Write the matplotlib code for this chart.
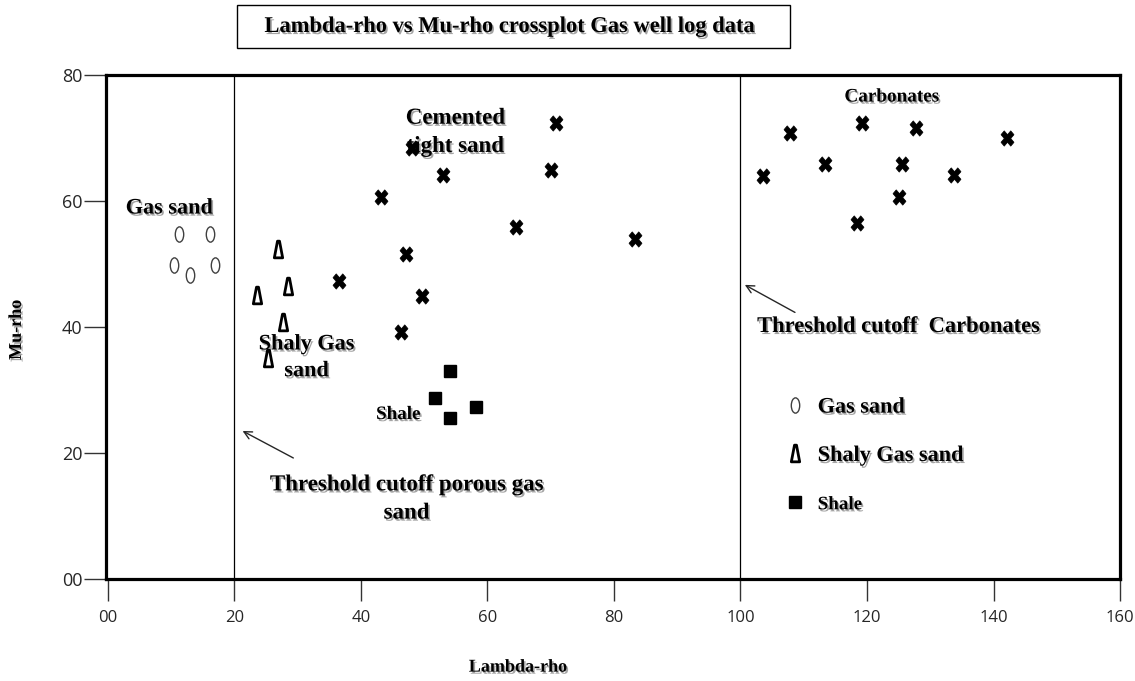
import matplotlib
matplotlib.use("Agg")
import matplotlib.pyplot as plt
import matplotlib.patheffects as pe
from matplotlib.markers import MarkerStyle
from matplotlib.path import Path
from matplotlib.patches import Rectangle
from matplotlib.lines import Line2D
from matplotlib.transforms import Affine2D

# Lambda-rho / Mu-rho pairs for each lithology
gas_sand_lr = [11.3, 16.2, 10.5, 12.9, 17.0]
gas_sand_mr = [54.8, 54.8, 49.9, 48.3, 49.9]

shaly_sand_lr = [26.9, 28.5, 23.6, 27.7, 25.3]
shaly_sand_mr = [52.4, 46.5, 45.0, 40.8, 35.1]

shale_lr = [54.1, 51.7, 58.2, 54.1]
shale_mr = [33.0, 28.8, 27.3, 25.5]

tight_sand_lr = [70.9, 48.1, 70.1, 53.0, 43.1, 64.5, 83.3, 47.2, 36.6, 49.7, 46.4]
tight_sand_mr = [72.4, 68.4, 64.9, 64.1, 60.7, 55.8, 54.0, 51.6, 47.3, 44.9, 39.2]

carbonate_lr = [103.6, 107.9, 113.4, 119.2, 127.7, 125.6, 125.0, 118.4, 133.8, 142.1]
carbonate_mr = [63.9, 70.8, 65.8, 72.4, 71.6, 65.8, 60.7, 56.5, 64.1, 70.0]

# porosity / carbonate cutoffs on the lambda-rho axis
cutoffs = [20, 100]

xticks = [0, 20, 40, 60, 80, 100, 120, 140, 160]
xtick_labels = ["00", "20", "40", "60", "80", "100", "120", "140", "160"]
yticks = [0, 20, 40, 60, 80]
ytick_labels = ["00", "20", "40", "60", "80"]

SERIF = "Liberation Serif"
SHADOW = [pe.withSimplePatchShadow(offset=(1.2, -1.5), shadow_rgbFace="0.35", alpha=0.55)]


def ellipse_marker():
    return Path.unit_circle().transformed(Affine2D().scale(0.55, 1.0))


def narrow_triangle():
    verts = [(-0.5, -1.0), (0.5, -1.0), (0.12, 1.0), (-0.12, 1.0), (-0.5, -1.0)]
    codes = [Path.MOVETO, Path.LINETO, Path.LINETO, Path.LINETO, Path.CLOSEPOLY]
    return Path(verts, codes)


def bold_x():
    ms = MarkerStyle("X")
    p = ms.get_path().transformed(ms.get_transform())
    return p.transformed(Affine2D().scale(0.85, 1.0))


def label(ax, x, y, s, size=16.5, **kw):
    ax.text(x, y, s, fontsize=size, family=SERIF, fontweight="bold",
            ha="center", va="center", linespacing=1.45,
            path_effects=SHADOW, zorder=3, **kw)


def main():
    fig = plt.figure(figsize=(11.35, 6.81), dpi=100)
    ax = fig.add_axes([0.0934, 0.1498, 0.8934, 0.7401])

    gas_m = ellipse_marker()
    tri_m = narrow_triangle()
    x_m = bold_x()

    ax.plot(gas_sand_lr, gas_sand_mr, ls="none", marker=gas_m, ms=11,
            mfc="none", mec="0.25", mew=1.0, zorder=5)
    ax.plot(shaly_sand_lr, shaly_sand_mr, ls="none", marker=tri_m, ms=12,
            mfc="white", mec="black", mew=2.0, zorder=5)
    ax.plot(shale_lr, shale_mr, ls="none", marker="s", ms=9,
            mfc="black", mec="black", zorder=5)
    ax.plot(tight_sand_lr, tight_sand_mr, ls="none", marker=x_m, ms=11,
            mfc="black", mec="black", mew=0.5, zorder=5)
    ax.plot(carbonate_lr, carbonate_mr, ls="none", marker=x_m, ms=11,
            mfc="black", mec="black", mew=0.5, zorder=5)

    for c in cutoffs:
        ax.axvline(c, color="black", lw=0.9, zorder=1)

    ax.set_xlim(-0.3, 160)
    ax.set_ylim(0, 80)
    ax.set_xticks(xticks, labels=xtick_labels)
    ax.set_yticks(yticks, labels=ytick_labels)
    for lab in ax.get_xticklabels():
        lab.set_family("Open Sans")
        lab.set_fontsize(12)
        lab.set_color("0.15")
    for lab in ax.get_yticklabels():
        lab.set_family("Open Sans")
        lab.set_fontsize(13)
        lab.set_color("0.15")
    ax.tick_params(axis="both", direction="out", length=16, width=1.0, color="0.2")
    ax.tick_params(axis="x", pad=6)
    ax.tick_params(axis="y", pad=1)

    for sp in ax.spines.values():
        sp.set_linewidth(2.3)
        sp.set_color("black")

    ax.set_xlabel("Lambda-rho", fontsize=13, family=SERIF, fontweight="bold",
                  path_effects=SHADOW)
    ax.set_ylabel("Mu-rho", fontsize=13, family=SERIF, fontweight="bold",
                  path_effects=SHADOW)
    ax.xaxis.set_label_coords(0.406, -0.158)
    ax.yaxis.set_label_coords(-0.080, 0.494)

    # region annotations
    label(ax, 9.7, 58.8, "Gas sand", size=16)
    label(ax, 54.9, 70.9, "Cemented\ntight sand")
    label(ax, 31.4, 35.1, "Shaly Gas\nsand", size=16)
    label(ax, 45.9, 26.1, "Shale", size=13.7)
    label(ax, 123.9, 76.5, "Carbonates", size=13.8)
    label(ax, 47.2, 12.7, "Threshold cutoff porous gas\nsand")
    label(ax, 125.0, 40.0, "Threshold cutoff  Carbonates", size=16.2)

    arrow = dict(arrowstyle="->", color="0.15", lw=1.0, mutation_scale=14)
    ax.annotate("", xy=(20.9, 23.7), xytext=(29.7, 19.0), arrowprops=arrow)
    ax.annotate("", xy=(100.3, 46.9), xytext=(109.0, 42.1), arrowprops=arrow)

    handles = [
        Line2D([], [], ls="none", marker=gas_m, ms=11, mfc="none", mec="0.25", mew=1.0),
        Line2D([], [], ls="none", marker=tri_m, ms=12, mfc="white", mec="black", mew=2.0),
        Line2D([], [], ls="none", marker="s", ms=9, mfc="black", mec="black"),
    ]
    leg = ax.legend(handles, ["Gas sand", "Shaly Gas sand", "Shale"],
                    loc="upper left", bbox_to_anchor=(0.658, 0.383),
                    frameon=False, handlelength=1.0, handletextpad=0.5,
                    labelspacing=1.25, borderpad=0,
                    prop={"family": SERIF, "weight": "bold", "size": 16})
    for t in leg.get_texts():
        t.set_path_effects(SHADOW)
    leg.get_texts()[2].set_fontsize(13.7)

    # framed title above the plot
    fig.patches.append(Rectangle((237 / 1135, 1 - 48 / 681), 553 / 1135, 43 / 681,
                                 transform=fig.transFigure, fill=False,
                                 edgecolor="black", lw=1.0))
    fig.text(510 / 1135, 1 - 27 / 681, "Lambda-rho vs Mu-rho crossplot Gas well log data",
             ha="center", va="center", fontsize=16.2, family=SERIF, fontweight="bold",
             path_effects=SHADOW)

    fig.savefig("out.png", dpi=100, facecolor="white")


if __name__ == "__main__":
    main()
